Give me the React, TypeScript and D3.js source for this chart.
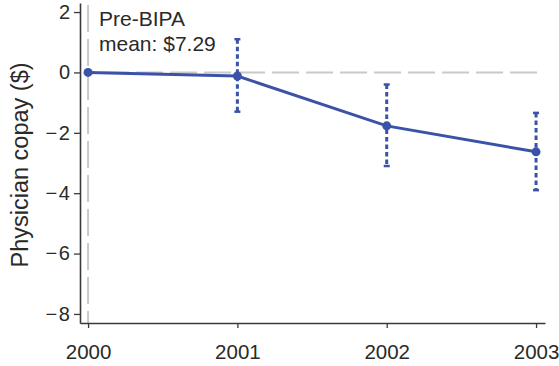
import { useEffect, useRef } from "react";
import * as d3 from "d3";

// Event-study estimates relative to 2000 (Pre-BIPA)
const years = [2000, 2001, 2002, 2003];
const estimates = [0, -0.12, -1.77, -2.63];
const ciLower = [null, -1.3, -3.1, -3.9];
const ciUpper = [null, 1.1, -0.4, -1.34];
const yTicks = [2, 0, -2, -4, -6, -8];
const annotation = ["Pre-BIPA", "mean: $7.29"];

const width = 559;
const height = 366;
const blue = "#3a52a8";
const refGray = "#c9c9c9";
const axisColor = "#3a3a3a";
const font = "'Liberation Sans', Arial, sans-serif";

export default function App() {
  const svgRef = useRef<SVGSVGElement>(null);

  useEffect(() => {
    if (!svgRef.current) return;
    const svg = d3.select(svgRef.current);
    svg.selectAll("*").remove();

    const xScale = d3.scaleLinear().domain([1999.946, 2003.06]).range([80, 545]);
    const yScale = d3.scaleLinear().domain([-8.3, 2.3]).range([323, 3]);

    // Reference lines (dashed gray)
    svg
      .append("line")
      .attr("x1", xScale(2000))
      .attr("x2", xScale(2000))
      .attr("y1", yScale.range()[1] + 2)
      .attr("y2", yScale.range()[0])
      .attr("stroke", refGray)
      .attr("stroke-width", 2)
      .attr("stroke-dasharray", "27 7");

    svg
      .append("line")
      .attr("x1", xScale(2000))
      .attr("x2", xScale(2003) + 4)
      .attr("y1", yScale(0))
      .attr("y2", yScale(0))
      .attr("stroke", refGray)
      .attr("stroke-width", 2)
      .attr("stroke-dasharray", "27 7")
      .attr("stroke-dashoffset", 20);

    // Axes
    const yAxis = d3
      .axisLeft(yScale)
      .tickValues(yTicks)
      .tickSize(6)
      .tickSizeOuter(0)
      .tickFormat((d) => String(d).replace("-", "\u2212\u200a"));

    const yG = svg.append("g").attr("transform", `translate(80,0)`).call(yAxis);
    yG.select(".domain").attr("stroke", axisColor).attr("stroke-width", 1.6);
    yG.selectAll(".tick line").attr("stroke", axisColor).attr("stroke-width", 1.3);
    yG.selectAll(".tick text")
      .attr("font-family", font)
      .attr("font-size", 20)
      .attr("fill", "#2a2a2a")
      .attr("x", -10);

    const xAxis = d3
      .axisBottom(xScale)
      .tickValues(years)
      .tickSize(5)
      .tickSizeOuter(0)
      .tickFormat((d) => String(d));

    const xG = svg.append("g").attr("transform", `translate(0,323)`).call(xAxis);
    xG.select(".domain").attr("stroke", axisColor).attr("stroke-width", 1.6);
    xG.selectAll(".tick line").attr("stroke", axisColor).attr("stroke-width", 1.3);
    xG.selectAll(".tick text")
      .attr("font-family", font)
      .attr("font-size", 20.5)
      .attr("fill", "#2a2a2a")
      .attr("dy", "1.38em");

    // Y axis title
    svg
      .append("text")
      .attr("transform", `translate(28,165) rotate(-90)`)
      .attr("text-anchor", "middle")
      .attr("font-family", font)
      .attr("font-size", 23.5)
      .attr("fill", "#2a2a2a")
      .text("Physician copay ($)");

    // Annotation
    svg
      .append("text")
      .attr("font-family", font)
      .attr("font-size", 21)
      .attr("fill", "#2a2a2a")
      .selectAll("tspan")
      .data(annotation)
      .join("tspan")
      .attr("x", 99)
      .attr("y", (_, i) => 26 + i * 25)
      .text((d) => d);

    // Confidence intervals (dashed)
    const ciData = years
      .map((yr, i) => ({ yr, lo: ciLower[i], hi: ciUpper[i] }))
      .filter((d) => d.lo !== null && d.hi !== null) as { yr: number; lo: number; hi: number }[];

    const ciG = svg.append("g");
    ciG
      .selectAll("line.ci")
      .data(ciData)
      .join("line")
      .attr("class", "ci")
      .attr("x1", (d) => xScale(d.yr))
      .attr("x2", (d) => xScale(d.yr))
      .attr("y1", (d) => yScale(d.hi))
      .attr("y2", (d) => yScale(d.lo))
      .attr("stroke", blue)
      .attr("stroke-width", 3)
      .attr("stroke-dasharray", "4.5 3");

    // Caps
    ciData.forEach((d) => {
      [d.hi, d.lo].forEach((v) => {
        ciG
          .append("line")
          .attr("x1", xScale(d.yr) - 3)
          .attr("x2", xScale(d.yr) + 3)
          .attr("y1", yScale(v))
          .attr("y2", yScale(v))
          .attr("stroke", blue)
          .attr("stroke-width", 2.5);
      });
    });

    // Estimate line
    const line = d3
      .line<number>()
      .x((_, i) => xScale(years[i]))
      .y((d) => yScale(d));

    svg
      .append("path")
      .datum(estimates)
      .attr("d", line)
      .attr("fill", "none")
      .attr("stroke", blue)
      .attr("stroke-width", 3);

    svg
      .append("g")
      .selectAll("circle")
      .data(estimates)
      .join("circle")
      .attr("cx", (_, i) => xScale(years[i]))
      .attr("cy", (d) => yScale(d))
      .attr("r", 4.5)
      .attr("fill", blue);
  }, []);

  return (
    <div style={{ position: "absolute", left: 0, top: 0 }}>
      <svg ref={svgRef} width={width} height={height} viewBox={`0 0 ${width} ${height}`} style={{ display: "block", background: "#fff" }} />
    </div>
  );
}
